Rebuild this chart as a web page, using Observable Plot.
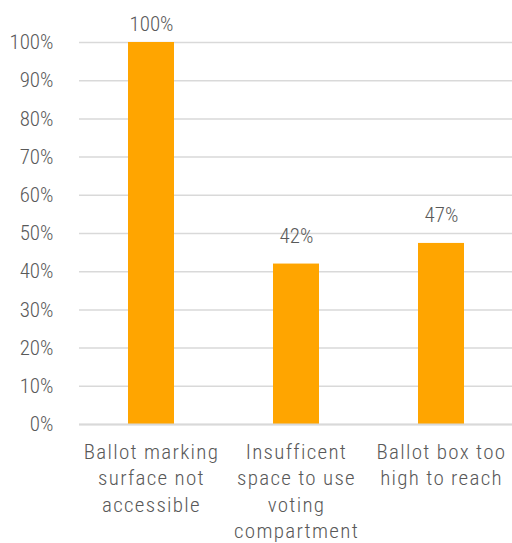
<!DOCTYPE html>
<html><head><meta charset="utf-8">
<script src="https://cdn.jsdelivr.net/npm/d3@7"></script>
<script src="https://cdn.jsdelivr.net/npm/@observablehq/plot@0.6"></script>
<style>
body{margin:0;background:#fff}
g[aria-label="x-axis tick label"] text{letter-spacing:1.3px}
</style>
</head><body><div id="chart"></div>
<script>
const categories = ["Ballot marking surface not accessible", "Insufficent space to use voting compartment", "Ballot box too high to reach"];
const tickLabels = ["Ballot marking\nsurface not\naccessible", "Insufficent\nspace to use\nvoting\ncompartment", "Ballot box too\nhigh to reach"];
const values = [1.00, 0.42, 0.474];
const yTicks = [0, 0.1, 0.2, 0.3, 0.4, 0.5, 0.6, 0.7, 0.8, 0.9, 1.0];

const data = categories.map((c, i) => ({category: c, value: values[i]}));
const pct = d3.format(".0%");
const font = "'Roboto Condensed', 'Liberation Sans Narrow', 'DejaVu Sans Condensed', Roboto, sans-serif";

const chart = Plot.plot({
  width: 512, height: 543,
  marginLeft: 79, marginRight: 0, marginTop: 42, marginBottom: 119,
  style: {fontFamily: font, fontSize: "21px", fontWeight: 300, color: "#595959", background: "#fff", fontStretch: "condensed"},
  x: {domain: categories, paddingInner: 0.684, paddingOuter: 0.33},
  y: {domain: [0, 1]},
  marks: [
    Plot.gridY(yTicks, {stroke: "#d9d9d9", strokeOpacity: 1, strokeWidth: 1.5}),
    Plot.barY(data, {x: "category", y: "value", fill: "#FFA500"}),
    Plot.ruleY([0], {stroke: "#d9d9d9", strokeWidth: 2}),
    Plot.axisY({ticks: yTicks, tickFormat: pct, tickSize: 0, tickPadding: 26, label: null, fill: "#595959", fontSize: 21, fontWeight: 300}),
    Plot.axisX({tickSize: 0, tickPadding: 16, label: null, lineHeight: 1.25, fill: "#595959", fontSize: 21, fontWeight: 300,
      tickFormat: d => tickLabels[categories.indexOf(d)]}),
    Plot.text(data, {x: "category", y: d => Math.min(d.value, 0.975), text: d => pct(d.value), dy: -21, lineAnchor: "bottom", fill: "#595959", fontSize: 21, fontWeight: 300})
  ]
});
document.getElementById("chart").append(chart);
</script>
</body></html>
